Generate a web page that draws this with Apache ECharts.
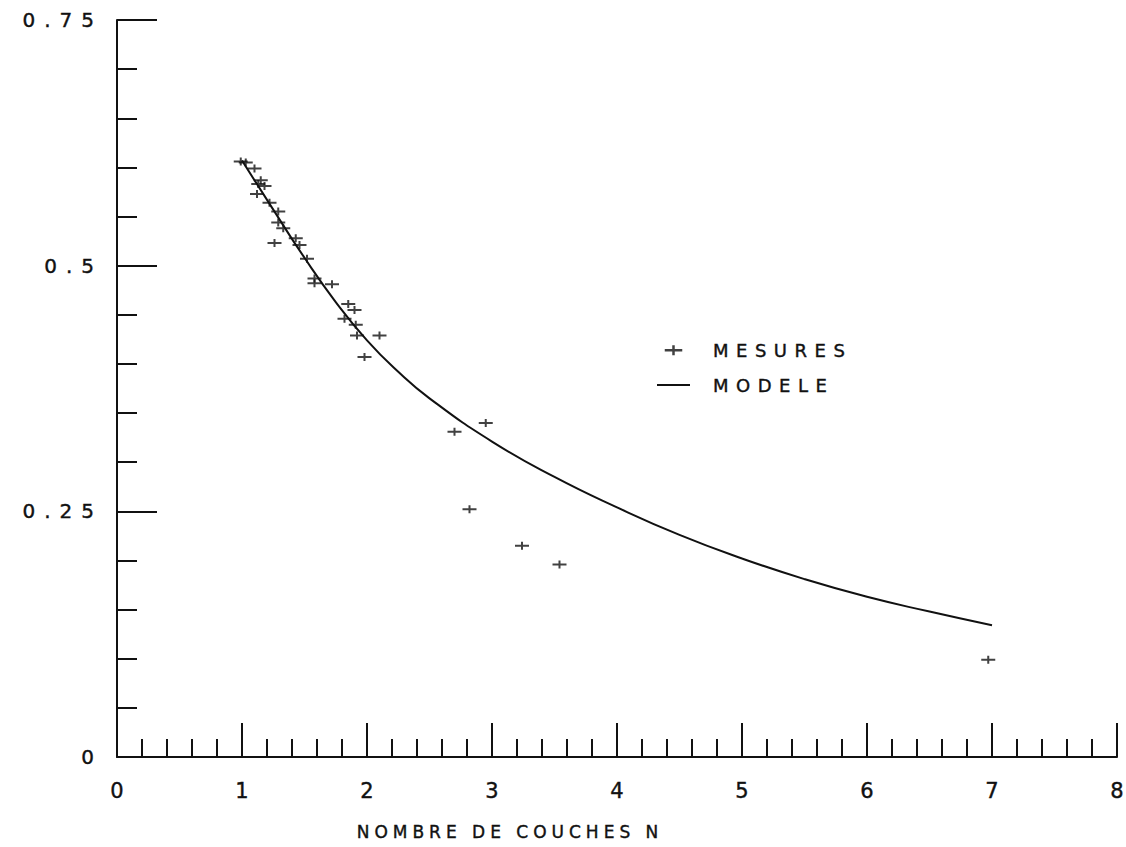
<!DOCTYPE html>
<html>
<head>
<meta charset="utf-8">
<script src="https://cdn.jsdelivr.net/npm/echarts@6/dist/echarts.min.js"></script>
<style>
  html, body { margin: 0; padding: 0; background: #fff; }
  #chart { width: 1126px; height: 847px; }
  /* wide plotter lettering, spacing picked per text size */
  #chart text[style*="20px"] { letter-spacing: 9px; }
  #chart text[style*="18px"] { letter-spacing: 7.5px; }
  #chart text[style*="17px"] { letter-spacing: 5px; }
</style>
</head>
<body>
<div id="chart"></div>
<script>
// model curve
const modelN = [1.0, 1.25, 1.5, 1.75, 2.0, 2.25, 2.5, 3.0, 3.5, 4.0, 4.5, 5.0, 5.5, 6.0, 6.5, 7.0]
const modelValue = [0.607, 0.557, 0.508, 0.463, 0.424, 0.392, 0.365, 0.321, 0.285, 0.254, 0.226, 0.202, 0.181, 0.163, 0.148, 0.134]

// measured points
const mesureN = [0.99, 1.03, 1.1, 1.15, 1.13, 1.18, 1.12, 1.22, 1.29, 1.29, 1.33, 1.26, 1.43, 1.46, 1.52, 1.58, 1.58, 1.72,
  1.85, 1.9, 1.82, 1.91, 1.92, 2.1, 1.98, 2.7, 2.95, 2.82, 3.24, 3.54, 6.97]
const mesureValue = [0.606, 0.605, 0.599, 0.587, 0.583, 0.581, 0.573, 0.564, 0.555, 0.544, 0.538, 0.523, 0.528, 0.521, 0.507, 0.487, 0.482, 0.481,
  0.461, 0.455, 0.446, 0.44, 0.429, 0.429, 0.407, 0.331, 0.34, 0.252, 0.215, 0.196, 0.099]

const ink = '#111'
const plusIcon = 'path://M0,3h14v2h-14z M6,0h2v8h-2z'
const dashIcon = 'path://M0,0h33v2h-33z'

const chart = echarts.init(document.getElementById('chart'), null, { renderer: 'svg' })

const textFont = { color: ink, fontFamily: 'DejaVu Sans', textBorderColor: ink, textBorderWidth: 0.4 }

chart.setOption({
  animation: false,
  backgroundColor: '#fff',
  grid: { left: 117, right: 9, top: 20, bottom: 90, containLabel: false, outerBoundsMode: 'none' },
  legend: {
    orient: 'vertical',
    left: 657,
    top: 341,
    padding: 0,
    itemWidth: 33,
    itemHeight: 10,
    itemGap: 16.5,
    symbolKeepAspect: true,
    textStyle: { ...textFont, fontSize: 18, padding: [0, 0, 0, 18] },
    data: [
      { name: 'MESURES', icon: plusIcon },
      { name: 'MODELE', icon: dashIcon }
    ]
  },
  xAxis: {
    type: 'value',
    min: 0,
    max: 8,
    interval: 1,
    name: 'NOMBRE DE COUCHES N',
    nameLocation: 'middle',
    nameGap: 66,
    nameTextStyle: { ...textFont, fontSize: 17, padding: [0, 214, 0, 0] },
    axisLine: { lineStyle: { color: ink, width: 2 } },
    axisTick: { inside: true, length: 34, lineStyle: { color: ink, width: 2 } },
    minorTick: { show: true, splitNumber: 5, length: 18, lineStyle: { color: ink, width: 2 } },
    axisLabel: { ...textFont, fontSize: 21, margin: 23, showMaxLabel: true },
    splitLine: { show: false }
  },
  yAxis: {
    type: 'value',
    min: 0,
    max: 0.75,
    interval: 0.25,
    axisLine: { show: true, lineStyle: { color: ink, width: 2 } },
    axisTick: { show: true, inside: true, length: 40, lineStyle: { color: ink, width: 2 } },
    minorTick: { show: true, splitNumber: 5, length: 20, lineStyle: { color: ink, width: 2 } },
    axisLabel: { ...textFont, fontSize: 20, margin: 14 },
    splitLine: { show: false }
  },
  series: [
    {
      name: 'MESURES',
      type: 'scatter',
      symbol: plusIcon,
      symbolSize: [14, 8],
      itemStyle: { color: ink },
      data: mesureN.map((n, i) => [n, mesureValue[i]])
    },
    {
      name: 'MODELE',
      type: 'line',
      smooth: true,
      symbol: 'none',
      lineStyle: { color: ink, width: 2 },
      itemStyle: { color: ink },
      data: modelN.map((n, i) => [n, modelValue[i]])
    }
  ]
})
</script>
</body>
</html>
